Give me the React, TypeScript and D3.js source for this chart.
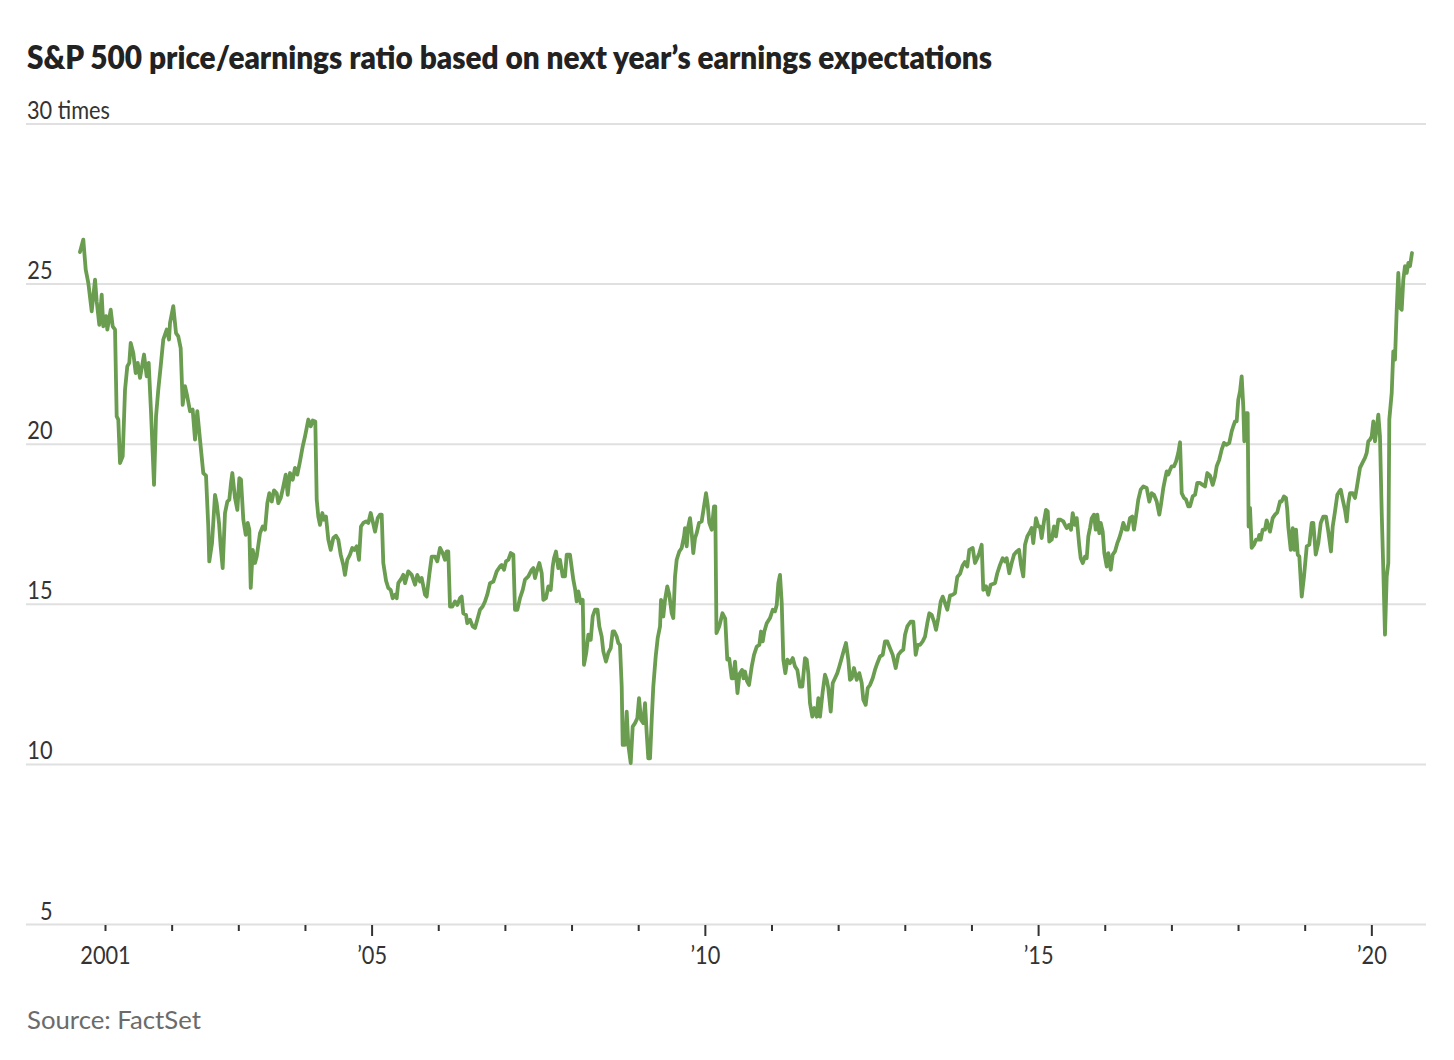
import React from "react";
import * as d3 from "d3";

const titleText = "S&P 500 price/earnings ratio based on next year’s earnings expectations";
const sourceText = "Source: FactSet";
const yTickValues = [5, 10, 15, 20, 25, 30];
const yUnitLabel = "times";
const xTickYears = d3.range(2001, 2021);
const xLabelYears = [2001, 2005, 2010, 2015, 2020];

// decimal-year dates (weekly-ish readings) and forward P/E values
const dates = [
  2000.617, 2000.667, 2000.703, 2000.742, 2000.793, 2000.843, 2000.868, 2000.907, 2000.943, 2000.967,
  2001.008, 2001.027, 2001.078, 2001.108, 2001.143, 2001.168, 2001.192, 2001.218, 2001.258, 2001.293,
  2001.327, 2001.357, 2001.378, 2001.417, 2001.453, 2001.483, 2001.518, 2001.578, 2001.618, 2001.648,
  2001.683, 2001.728, 2001.758, 2001.792, 2001.828, 2001.867, 2001.918, 2001.953, 2001.968,
  2002.017, 2002.058, 2002.092, 2002.128, 2002.158, 2002.193, 2002.227, 2002.268, 2002.308, 2002.343,
  2002.377, 2002.418, 2002.467, 2002.508, 2002.542, 2002.557, 2002.598, 2002.643, 2002.668, 2002.703,
  2002.728, 2002.758, 2002.793, 2002.828, 2002.858, 2002.883, 2002.903, 2002.943, 2002.978,
  2003.008, 2003.033, 2003.068, 2003.104, 2003.134, 2003.158, 2003.179, 2003.209, 2003.243, 2003.269,
  2003.318, 2003.359, 2003.393, 2003.428, 2003.458, 2003.494, 2003.528, 2003.569, 2003.593, 2003.629,
  2003.668, 2003.704, 2003.734, 2003.768, 2003.809, 2003.843, 2003.878, 2003.918, 2003.959, 2003.993,
  2004.043, 2004.079, 2004.109, 2004.148, 2004.169, 2004.193, 2004.218, 2004.253, 2004.278, 2004.308,
  2004.343, 2004.379, 2004.418, 2004.458, 2004.493, 2004.529, 2004.568, 2004.593, 2004.628, 2004.668,
  2004.703, 2004.733, 2004.769, 2004.803, 2004.833, 2004.868, 2004.909, 2004.943, 2004.979,
  2005.009, 2005.044, 2005.084, 2005.119, 2005.144, 2005.168, 2005.209, 2005.243, 2005.279, 2005.309,
  2005.344, 2005.369, 2005.393, 2005.444, 2005.468, 2005.494, 2005.543, 2005.594, 2005.644, 2005.678,
  2005.719, 2005.744, 2005.794, 2005.819, 2005.858, 2005.894, 2005.944, 2005.978,
  2006.019, 2006.059, 2006.094, 2006.119, 2006.143, 2006.169, 2006.203, 2006.244, 2006.278, 2006.319,
  2006.344, 2006.368, 2006.409, 2006.428, 2006.469, 2006.509, 2006.544, 2006.578, 2006.619, 2006.659,
  2006.694, 2006.728, 2006.769, 2006.819, 2006.87, 2006.919, 2006.945, 2006.979,
  2007.009, 2007.044, 2007.08, 2007.119, 2007.144, 2007.179, 2007.219, 2007.26, 2007.294, 2007.344,
  2007.395, 2007.419, 2007.444, 2007.47, 2007.509, 2007.545, 2007.569, 2007.609, 2007.644, 2007.68,
  2007.71, 2007.729, 2007.759, 2007.794, 2007.819, 2007.86, 2007.894, 2007.92, 2007.969,
  2008.019, 2008.044, 2008.07, 2008.094, 2008.13, 2008.16, 2008.179, 2008.214, 2008.244, 2008.28,
  2008.31, 2008.344, 2008.382, 2008.409, 2008.445, 2008.469, 2008.509, 2008.544, 2008.58, 2008.61,
  2008.634, 2008.67, 2008.694, 2008.719, 2008.745, 2008.76, 2008.795, 2008.82, 2008.844, 2008.88,
  2008.91, 2008.945, 2008.979,
  2009.005, 2009.035, 2009.069, 2009.095, 2009.12, 2009.144, 2009.17, 2009.195, 2009.219, 2009.255,
  2009.285, 2009.32, 2009.335, 2009.369, 2009.395, 2009.429, 2009.459, 2009.495, 2009.519, 2009.545,
  2009.57, 2009.609, 2009.645, 2009.68, 2009.695, 2009.72, 2009.744, 2009.77, 2009.795, 2009.819,
  2009.845, 2009.87, 2009.905, 2009.945, 2009.98,
  2010.01, 2010.035, 2010.059, 2010.095, 2010.13, 2010.149, 2010.167, 2010.209, 2010.257, 2010.298,
  2010.329, 2010.359, 2010.395, 2010.419, 2010.445, 2010.482, 2010.512, 2010.55, 2010.572, 2010.595,
  2010.625, 2010.655, 2010.696, 2010.73, 2010.771, 2010.81, 2010.835, 2010.861, 2010.885, 2010.921,
  2010.97,
  2011.011, 2011.045, 2011.071, 2011.095, 2011.12, 2011.146, 2011.17, 2011.2, 2011.23, 2011.27,
  2011.311, 2011.345, 2011.38, 2011.42, 2011.455, 2011.495, 2011.521, 2011.545, 2011.57, 2011.605,
  2011.635, 2011.671, 2011.695, 2011.72, 2011.761, 2011.795, 2011.821, 2011.845, 2011.881, 2011.911,
  2011.945, 2011.98,
  2012.01, 2012.046, 2012.08, 2012.11, 2012.145, 2012.17, 2012.196, 2012.23, 2012.271, 2012.31,
  2012.346, 2012.37, 2012.406, 2012.436, 2012.47, 2012.511, 2012.545, 2012.58, 2012.62, 2012.661,
  2012.695, 2012.73, 2012.77, 2012.811, 2012.856, 2012.895, 2012.936, 2012.97, 2012.996,
  2013.03, 2013.081, 2013.12, 2013.156, 2013.186, 2013.221, 2013.261, 2013.296, 2013.33, 2013.36,
  2013.396, 2013.431, 2013.461, 2013.495, 2013.531, 2013.561, 2013.596, 2013.63, 2013.671, 2013.711,
  2013.746, 2013.78, 2013.821, 2013.858, 2013.894, 2013.93, 2013.96,
  2014.011, 2014.046, 2014.08, 2014.11, 2014.146, 2014.17, 2014.211, 2014.245, 2014.281, 2014.346,
  2014.38, 2014.421, 2014.461, 2014.496, 2014.521, 2014.56, 2014.596, 2014.631, 2014.671, 2014.706,
  2014.736, 2014.77, 2014.796, 2014.83, 2014.871, 2014.896, 2014.92, 2014.961, 2014.996,
  2015.021, 2015.046, 2015.081, 2015.111, 2015.137, 2015.16, 2015.197, 2015.231, 2015.261, 2015.296,
  2015.332, 2015.371, 2015.396, 2015.422, 2015.456, 2015.486, 2015.512, 2015.546, 2015.572, 2015.611,
  2015.632, 2015.662, 2015.696, 2015.722, 2015.746, 2015.771, 2015.797, 2015.831, 2015.857, 2015.881,
  2015.911, 2015.932, 2015.962, 2015.986,
  2016.022, 2016.046, 2016.082, 2016.112, 2016.146, 2016.181, 2016.211, 2016.247, 2016.271, 2016.307,
  2016.337, 2016.371, 2016.406, 2016.431, 2016.461, 2016.496, 2016.532, 2016.571, 2016.622, 2016.661,
  2016.697, 2016.731, 2016.772, 2016.811, 2016.836, 2016.871, 2016.896, 2016.922, 2016.946, 2016.972,
  2016.997,
  2017.032, 2017.062, 2017.096, 2017.122, 2017.147, 2017.182, 2017.212, 2017.246, 2017.272, 2017.312,
  2017.347, 2017.381, 2017.422, 2017.462, 2017.497, 2017.531, 2017.572, 2017.612, 2017.647, 2017.672,
  2017.711, 2017.747, 2017.782, 2017.822, 2017.861, 2017.897, 2017.921, 2017.947, 2017.972, 2017.996,
  2018.022, 2018.047, 2018.071, 2018.086, 2018.112, 2018.137, 2018.151, 2018.172, 2018.197, 2018.232,
  2018.262, 2018.296, 2018.311, 2018.332, 2018.362, 2018.397, 2018.422, 2018.472, 2018.512, 2018.547,
  2018.581, 2018.622, 2018.647, 2018.682, 2018.712, 2018.731, 2018.746, 2018.783, 2018.813, 2018.837,
  2018.862, 2018.888, 2018.912, 2018.948, 2018.982,
  2019.023, 2019.062, 2019.098, 2019.122, 2019.158, 2019.197, 2019.233, 2019.272, 2019.312, 2019.347,
  2019.387, 2019.413, 2019.447, 2019.482, 2019.512, 2019.533, 2019.563, 2019.597, 2019.623, 2019.647,
  2019.672, 2019.713, 2019.747, 2019.773, 2019.797, 2019.822, 2019.857, 2019.897, 2019.923, 2019.947,
  2019.972, 2019.998,
  2020.022, 2020.047, 2020.073, 2020.097, 2020.122, 2020.148, 2020.172, 2020.197, 2020.223, 2020.247,
  2020.262, 2020.298, 2020.322, 2020.347, 2020.373, 2020.397, 2020.422, 2020.448, 2020.472, 2020.497,
  2020.523, 2020.547, 2020.572, 2020.602,
];

const peRatio = [
  26.0, 26.39, 25.45, 25.04, 24.15, 25.14, 24.46, 23.73, 24.67, 23.68,
  24.0, 23.58, 24.2, 23.68, 23.58, 20.87, 20.77, 19.41, 19.62, 21.7,
  22.43, 22.54, 23.16, 22.85, 22.22, 22.54, 22.07, 22.8, 22.12, 22.54,
  21.0, 18.73, 20.87, 21.7, 22.43, 23.27, 23.58, 23.27, 23.79,
  24.31, 23.47, 23.37, 23.0, 21.23, 21.81, 21.49, 21.03, 21.08, 20.14,
  21.03, 20.14, 19.1, 19.02, 17.43, 16.34, 16.91, 18.42, 18.16, 17.54,
  16.81, 16.13, 17.85, 18.21, 18.27, 18.79, 19.1, 18.32, 17.95,
  18.94, 18.89, 17.64, 17.17, 17.54, 17.33, 15.51, 16.7, 16.29, 16.49,
  17.22, 17.43, 17.33, 18.16, 18.47, 18.21, 18.56, 18.47, 18.16, 18.32,
  18.68, 19.05, 18.42, 19.1, 18.89, 19.26, 19.05, 19.46, 19.93, 20.24,
  20.77, 20.56, 20.74, 20.71, 18.27, 17.74, 17.48, 17.85, 17.64, 17.74,
  17.02, 16.7, 17.07, 17.14, 17.02, 16.55, 16.23, 15.92, 16.39, 16.55,
  16.76, 16.7, 16.81, 16.39, 17.43, 17.54, 17.59, 17.54, 17.85,
  17.59, 17.27, 17.69, 17.8, 17.8, 16.29, 15.74, 15.51, 15.45, 15.19,
  15.3, 15.19, 15.66, 15.82, 15.92, 15.66, 16.03, 15.92, 15.61, 15.92,
  15.71, 15.82, 15.3, 15.24, 15.92, 16.49, 16.49, 16.34,
  16.76, 16.6, 16.39, 16.65, 16.65, 14.93, 14.93, 15.09, 14.98, 15.19,
  15.24, 14.72, 14.67, 14.41, 14.52, 14.31, 14.26, 14.52, 14.83, 14.93,
  15.09, 15.3, 15.66, 15.71, 16.03, 16.18, 16.23, 16.08,
  16.34, 16.39, 16.6, 16.55, 14.83, 14.83, 15.19, 15.45, 15.77, 15.87,
  16.08, 16.13, 15.82, 16.03, 16.29, 15.97, 15.14, 15.19, 15.56, 15.45,
  16.18, 16.44, 16.65, 16.13, 16.39, 15.87, 15.87, 16.55, 16.55,
  15.77, 15.5, 15.09, 15.4, 15.04, 15.14, 13.11, 13.5, 14.05, 13.89,
  14.62, 14.83, 14.83, 14.31, 13.99, 13.53, 13.21, 13.48, 13.63, 14.15,
  14.15, 13.99, 13.79, 13.73, 12.43, 10.61, 10.61, 11.65, 10.61, 10.04,
  11.18, 11.29, 11.44,
  12.07, 11.39, 11.29, 11.91, 10.98, 10.19, 10.19, 11.39, 12.43, 13.37,
  13.94, 14.31, 15.14, 14.62, 15.14, 15.56, 15.3, 14.72, 14.57, 15.87,
  16.39, 16.65, 16.76, 17.12, 17.38, 16.81, 17.43, 17.69, 17.22, 16.6,
  17.07, 17.22, 17.54, 17.59, 18.06,
  18.47, 18.11, 17.54, 17.33, 18.06, 18.06, 14.1, 14.31, 14.72, 14.55,
  13.27, 13.3, 12.69, 12.69, 13.21, 12.23, 12.82, 12.95, 12.69, 12.9,
  12.6, 12.48, 13.06, 13.42, 13.68, 13.73, 14.15, 13.84, 14.15, 14.41,
  14.57,
  14.83, 14.78, 14.98, 15.66, 15.92, 15.04, 13.27, 12.85, 13.27, 13.16,
  13.32, 13.06, 12.95, 12.43, 12.43, 13.32, 13.27, 12.85, 11.91, 11.49,
  11.76, 11.49, 12.07, 11.49, 12.28, 12.8, 12.64, 12.38, 11.65, 12.54,
  12.69, 12.85,
  13.06, 13.32, 13.58, 13.79, 13.27, 12.64, 12.69, 13.01, 12.64, 12.85,
  12.54, 12.02, 11.86, 12.38, 12.48, 12.69, 12.95, 13.16, 13.37, 13.42,
  13.84, 13.84, 13.63, 13.42, 13.01, 13.42, 13.53, 13.58, 14.05,
  14.31, 14.46, 14.46, 13.42, 13.73, 13.73, 13.84, 13.99, 14.41, 14.72,
  14.67, 14.46, 14.2, 14.57, 15.09, 15.24, 15.04, 14.83, 15.27, 15.3,
  15.35, 15.85, 15.95, 16.2, 16.32, 16.18, 16.7,
  16.76, 16.29, 16.44, 16.6, 16.86, 15.45, 15.56, 15.3, 15.61, 15.66,
  15.97, 16.23, 16.44, 16.34, 16.44, 15.97, 16.29, 16.55, 16.65, 16.7,
  16.23, 15.87, 16.86, 17.12, 17.27, 17.38, 16.91, 17.69, 17.43,
  17.43, 17.07, 17.59, 17.95, 17.9, 16.96, 17.02, 17.43, 17.12, 17.64,
  17.64, 17.59, 17.48, 17.38, 17.48, 17.33, 17.85, 17.48, 17.69, 16.81,
  16.44, 16.29, 16.49, 16.44, 17.12, 17.38, 17.69, 17.8, 17.33, 17.8,
  17.22, 17.54, 17.27, 16.6,
  16.18, 16.6, 16.08, 16.55, 16.65, 16.91, 17.07, 17.33, 17.54, 17.33,
  17.33, 17.69, 17.74, 17.33, 17.74, 18.27, 18.58, 18.68, 18.63, 18.21,
  18.47, 18.42, 18.21, 17.8, 18.11, 18.63, 18.89, 19.15, 19.05, 19.2,
  19.31,
  19.31, 19.46, 19.73, 20.06, 18.47, 18.32, 18.27, 18.06, 18.06, 18.37,
  18.42, 18.79, 18.79, 18.73, 18.68, 19.1, 19.02, 18.73, 18.99, 19.31,
  19.52, 19.83, 20.04, 19.98, 20.04, 20.4, 20.56, 20.71, 20.71, 21.39,
  21.65, 22.12, 21.18, 20.09, 20.97, 20.97, 17.43, 18.01, 16.76, 16.86,
  17.02, 17.02, 17.17, 17.02, 17.33, 17.33, 17.62, 17.27, 17.69, 17.8,
  17.87, 18.21, 18.21, 18.37, 18.32, 17.95, 17.43, 16.7, 17.38, 16.7,
  17.33, 16.55, 16.49, 15.24, 15.87,
  16.81, 16.86, 17.54, 17.54, 16.55, 16.91, 17.54, 17.74, 17.74, 17.27,
  16.65, 17.43, 17.9, 18.42, 18.52, 18.58, 18.27, 17.95, 17.59, 18.16,
  18.47, 18.47, 18.32, 18.63, 18.94, 19.26, 19.41, 19.57, 19.73, 20.09,
  20.14, 20.24,
  20.71, 20.09, 20.51, 20.92, 20.24, 17.85, 16.08, 14.05, 15.87, 16.29,
  20.77, 21.6, 22.9, 22.64, 24.2, 25.35, 24.26, 24.2, 25.14, 25.56,
  25.35, 25.66, 25.56, 25.97,
];

const FONT = "Lato, 'Noto Sans', 'Liberation Sans', sans-serif";

export default function App() {
  const width = 1454;
  const height = 1060;
  const left = 26;
  const right = 1426;
  const x = d3.scaleLinear().domain([2000, 2020]).range([38.85, 1371.85]);
  const y = d3.scaleLinear().domain([5, 30]).range([924.5, 124]);

  const points = dates.map((d, i) => ({ t: d, v: peRatio[i] }));
  const linePath = d3
    .line<{ t: number; v: number }>()
    .x((d) => x(d.t))
    .y((d) => y(d.v))(points) as string;

  const fmtYear = (yr: number) => (yr === 2001 ? String(yr) : "’" + String(yr).slice(2));
  const labelScale = 0.87;

  return (
    <svg
      width={width}
      height={height}
      style={{ position: "absolute", left: 0, top: 0, background: "#fff" }}
      fontFamily={FONT}
    >
      <rect x={0} y={0} width={width} height={height} fill="#fff" />
      <text
        x={27}
        y={69}
        fontSize={32}
        fontWeight={800}
        fill="#222"
        textLength={965}
        lengthAdjust="spacingAndGlyphs"
      >
        {titleText}
      </text>

      {/* gridlines */}
      {yTickValues.map((v) => (
        <line
          key={"g" + v}
          x1={left}
          x2={right}
          y1={y(v)}
          y2={y(v)}
          stroke="#e0e0e0"
          strokeWidth={2}
        />
      ))}

      {/* y labels */}
      {yTickValues.map((v) =>
        v === 30 ? (
          <text
            key={"yl" + v}
            transform={`translate(27,${y(v) - 5}) scale(${labelScale},1)`}
            fontSize={25}
            fill="#333"
          >
            {`${v} ${yUnitLabel}`}
          </text>
        ) : (
          <text
            key={"yl" + v}
            transform={`translate(52.5,${y(v) - 5}) scale(${labelScale},1)`}
            fontSize={25}
            fill="#333"
            textAnchor="end"
          >
            {v}
          </text>
        )
      )}

      {/* x ticks */}
      {xTickYears.map((yr) => (
        <line
          key={"t" + yr}
          x1={x(yr)}
          x2={x(yr)}
          y1={925}
          y2={yr % 5 === 0 ? 936 : 931}
          stroke="#333"
          strokeWidth={2}
        />
      ))}
      {xLabelYears.map((yr) => (
        <text
          key={"xl" + yr}
          transform={`translate(${x(yr)},963.5) scale(${labelScale},1)`}
          fontSize={25}
          fill="#333"
          textAnchor="middle"
        >
          {fmtYear(yr)}
        </text>
      ))}

      {/* line */}
      <path
        d={linePath}
        fill="none"
        stroke="#6a9d50"
        strokeWidth={3.8}
        strokeLinejoin="round"
        strokeLinecap="round"
      />

      <text
        transform={`translate(27,1029) scale(1.03,1)`}
        fontSize={25}
        fill="#6b6b6b"
      >
        {sourceText}
      </text>
    </svg>
  );
}
